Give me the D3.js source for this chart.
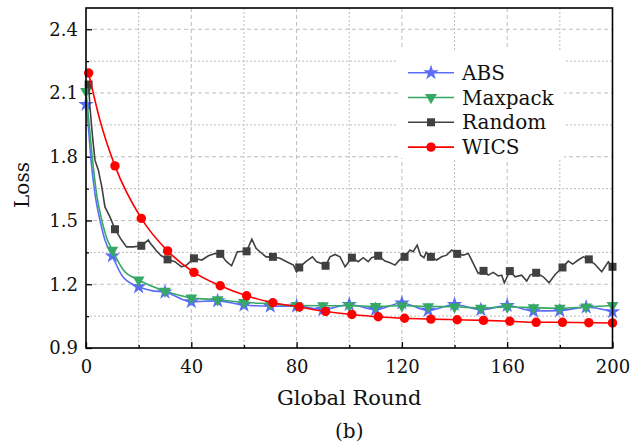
<!DOCTYPE html>
<html>
<head>
<meta charset="utf-8">
<script src="https://cdn.jsdelivr.net/npm/d3@7"></script>
<style>
  body { margin: 0; background: #fff; }
  text { font-family: "DejaVu Serif", serif; }
</style>
</head>
<body>
<svg id="chart" width="640" height="448"></svg>
<script>
// data
const absRound = [0, 0.9, 1.9, 3.4, 5.3, 7.2, 10, 14, 20, 25, 30, 40, 50, 60, 70, 80, 90, 100, 110, 120, 130, 140, 150, 160, 170, 180, 190, 200];
const absLoss  = [2.046, 1.94, 1.784, 1.627, 1.502, 1.408, 1.333, 1.235, 1.188, 1.17, 1.163, 1.118, 1.122, 1.102, 1.097, 1.097, 1.081, 1.105, 1.081, 1.112, 1.077, 1.105, 1.08, 1.1, 1.074, 1.076, 1.092, 1.071];

const maxRound = [0, 1.3, 2.5, 4, 6, 7.9, 10, 14.2, 20, 30, 40, 50, 60, 70, 80, 90, 100, 110, 120, 130, 140, 150, 160, 170, 180, 190, 200];
const maxLoss  = [2.108, 1.94, 1.784, 1.627, 1.502, 1.416, 1.361, 1.267, 1.22, 1.168, 1.136, 1.127, 1.115, 1.108, 1.1, 1.099, 1.099, 1.096, 1.099, 1.095, 1.094, 1.088, 1.093, 1.09, 1.087, 1.093, 1.1];

const randRound = [1, 1.5, 2.5, 3.4, 4.7, 6, 7.2, 9.1, 11, 13.5, 15.4, 18, 21, 23.7, 24.3, 26.9, 28.5, 31, 33.8, 36.3, 38.2, 41, 44, 46.5, 49, 51, 53.4, 55.3, 57.5, 61, 63, 64.6, 66.1, 68.4, 71, 73.7, 76.2, 78.8, 80, 81, 83.5, 86, 87.6, 89.5, 91, 92.7, 94.6, 96.5, 98.4, 101, 103.4, 105.3, 107.2, 108.5, 111, 113.6, 115.5, 117.4, 119.3, 121, 123.1, 124.3, 125.8, 127.1, 128.4, 129.2, 131, 133.2, 135.1, 137, 138.9, 141, 143.3, 145.2, 145.9, 147.1, 149, 151, 152.8, 154.7, 156.6, 157.9, 158.9, 161, 163, 165.5, 167.4, 168.7, 171, 173.7, 175.9, 178.2, 181, 183.2, 184.9, 187, 188.9, 191, 193.4, 195.9, 198.4, 200];
const randLoss  = [2.14, 2.034, 1.893, 1.784, 1.737, 1.658, 1.564, 1.517, 1.459, 1.408, 1.376, 1.376, 1.381, 1.408, 1.395, 1.355, 1.335, 1.317, 1.306, 1.282, 1.29, 1.322, 1.314, 1.334, 1.345, 1.343, 1.306, 1.287, 1.353, 1.355, 1.412, 1.369, 1.353, 1.329, 1.329, 1.322, 1.306, 1.29, 1.259, 1.279, 1.306, 1.329, 1.306, 1.298, 1.287, 1.329, 1.34, 1.329, 1.282, 1.325, 1.306, 1.325, 1.306, 1.325, 1.334, 1.309, 1.301, 1.29, 1.317, 1.329, 1.361, 1.353, 1.384, 1.337, 1.325, 1.35, 1.329, 1.314, 1.329, 1.337, 1.361, 1.343, 1.337, 1.345, 1.329, 1.298, 1.251, 1.263, 1.243, 1.256, 1.239, 1.243, 1.207, 1.262, 1.235, 1.243, 1.215, 1.243, 1.254, 1.235, 1.207, 1.246, 1.279, 1.309, 1.295, 1.314, 1.329, 1.317, 1.293, 1.259, 1.306, 1.282];

const wicsRound = [1, 5.3, 11, 21, 31, 41, 51, 61, 71, 81, 91, 101, 111, 121, 131, 141, 151, 161, 171, 181, 191, 200];
const wicsLoss  = [2.194, 1.972, 1.757, 1.51, 1.357, 1.256, 1.193, 1.146, 1.113, 1.093, 1.072, 1.058, 1.047, 1.04, 1.036, 1.033, 1.03, 1.026, 1.021, 1.021, 1.019, 1.018];

// rounds that carry a marker
const marks10 = d3.range(0, 201, 10);
const marks1 = d3.range(1, 192, 10).concat([200]);

const xTicks = [0, 40, 80, 120, 160, 200];
const yTicks = [0.9, 1.2, 1.5, 1.8, 2.1, 2.4];

const width = 640, height = 448;
const margin = {top: 8, right: 27.5, bottom: 100, left: 86};
const iw = width - margin.left - margin.right;
const ih = height - margin.top - margin.bottom;

const svg = d3.select('#chart');
const g = svg.append('g').attr('transform', `translate(${margin.left},${margin.top})`);

const x = d3.scaleLinear().domain([0, 200]).range([0, iw]);
const y = d3.scaleLinear().domain([0.9, 2.5]).range([ih, 0]);

// grid
const gridX = d3.range(20, 200, 20);
const gridY = d3.range(0, 11).map(i => +(1.05 + i * 0.15).toFixed(2)).filter(v => v < 2.5);
const isMajorY = d => Math.abs(Math.round((d - 0.9) / 0.3) * 0.3 + 0.9 - d) < 0.01;

g.selectAll('.gx').data(gridX).join('line')
    .attr('x1', d => x(d)).attr('x2', d => x(d))
    .attr('y1', 0).attr('y2', ih)
    .style('stroke', '#bdbdbd')
    .style('stroke-width', 1)
    .style('stroke-dasharray', d => d % 40 === 0 ? '4,3' : '2,2');

g.selectAll('.gy').data(gridY).join('line')
    .attr('x1', 0).attr('x2', iw)
    .attr('y1', d => y(d)).attr('y2', d => y(d))
    .style('stroke', '#bdbdbd')
    .style('stroke-width', 1)
    .style('stroke-dasharray', d => isMajorY(d) ? '4,3' : '2,2');

// axes (inward ticks)
const xAxis = d3.axisBottom(x).tickValues(xTicks).tickSize(-6).tickPadding(12).tickFormat(d3.format('d'));
const xMinor = d3.axisBottom(x).tickValues(d3.range(20, 200, 40)).tickSize(-3).tickFormat('');
const yAxis = d3.axisLeft(y).tickValues(yTicks).tickSize(-6).tickPadding(8).tickFormat(d3.format('.1f'));
const yMinor = d3.axisLeft(y).tickValues([1.05, 1.35, 1.65, 1.95, 2.25]).tickSize(-3).tickFormat('');

function styleAxis(sel) {
    sel.select('.domain').remove();
    sel.selectAll('line').style('stroke', '#000').style('stroke-width', 1.3);
    sel.selectAll('text').style('font-size', '18px').style('fill', '#111');
}

g.append('g').attr('transform', `translate(0,${ih})`).call(xAxis).call(styleAxis);
g.append('g').attr('transform', `translate(0,${ih})`).call(xMinor).call(styleAxis);
g.append('g').call(yAxis).call(styleAxis);
g.append('g').call(yMinor).call(styleAxis);

g.selectAll('.tick text').attr('font-family', '"DejaVu Serif", serif');

// series
const series = [
    {name: 'ABS', xs: absRound, ys: absLoss, marks: marks10, color: '#5b6df7', sym: d3.symbolStar, size: 75, rot: 0, curve: d3.curveMonotoneX},
    {name: 'Maxpack', xs: maxRound, ys: maxLoss, marks: marks10, color: '#36a865', sym: d3.symbolTriangle, size: 60, rot: 180, curve: d3.curveMonotoneX},
    {name: 'Random', xs: randRound, ys: randLoss, marks: marks1, color: '#404040', sym: d3.symbolSquare, size: 64, rot: 0, curve: d3.curveLinear},
    {name: 'WICS', xs: wicsRound, ys: wicsLoss, marks: marks1, color: '#ff0000', sym: d3.symbolCircle, size: 70, rot: 0, curve: d3.curveMonotoneX}
];

const plot = g.append('g');

series.forEach(s => {
    const pts = s.xs.map((r, i) => [r, s.ys[i]]);
    const line = d3.line().x(d => x(d[0])).y(d => y(d[1])).curve(s.curve);
    plot.append('path')
        .datum(pts)
        .attr('d', line)
        .attr('fill', 'none')
        .attr('stroke', s.color)
        .attr('stroke-width', 1.6);
    const mk = pts.filter(p => s.marks.includes(p[0]));
    plot.selectAll(null).data(mk).join('path')
        .attr('d', d3.symbol().type(s.sym).size(s.size))
        .attr('transform', d => `translate(${x(d[0])},${y(d[1])}) rotate(${s.rot})`)
        .attr('fill', s.color);
});

// frame
g.append('rect')
    .attr('x', 0).attr('y', 0).attr('width', iw).attr('height', ih)
    .attr('fill', 'none').attr('stroke', '#000').attr('stroke-width', 1.6);

// legend
const lg = g.append('g').attr('transform', `translate(${398 - margin.left},${50 - margin.top})`);
lg.append('rect').attr('width', 166).attr('height', 108).attr('fill', '#fff');
series.forEach((s, i) => {
    const yy = 22.7 + i * 24.8;
    lg.append('line').attr('x1', 10).attr('x2', 56).attr('y1', yy).attr('y2', yy)
        .attr('stroke', s.color).attr('stroke-width', 1.6);
    lg.append('path')
        .attr('d', d3.symbol().type(s.sym).size(s.size))
        .attr('transform', `translate(33,${yy}) rotate(${s.rot})`)
        .attr('fill', s.color);
    lg.append('text').text(s.name)
        .attr('x', 64).attr('y', yy + 7)
        .style('font-size', '20px').style('fill', '#111');
});

// labels
svg.append('text').text('Global Round')
    .attr('x', margin.left + iw / 2).attr('y', 405)
    .attr('text-anchor', 'middle').style('font-size', '21px').style('fill', '#111');
svg.append('text').text('Loss')
    .attr('transform', `translate(29,185) rotate(-90)`)
    .attr('text-anchor', 'middle').style('font-size', '20px').style('fill', '#111');
svg.append('text').text('(b)')
    .attr('x', margin.left + iw / 2).attr('y', 438)
    .attr('text-anchor', 'middle').style('font-size', '20px').style('fill', '#111');
</script>
</body>
</html>
